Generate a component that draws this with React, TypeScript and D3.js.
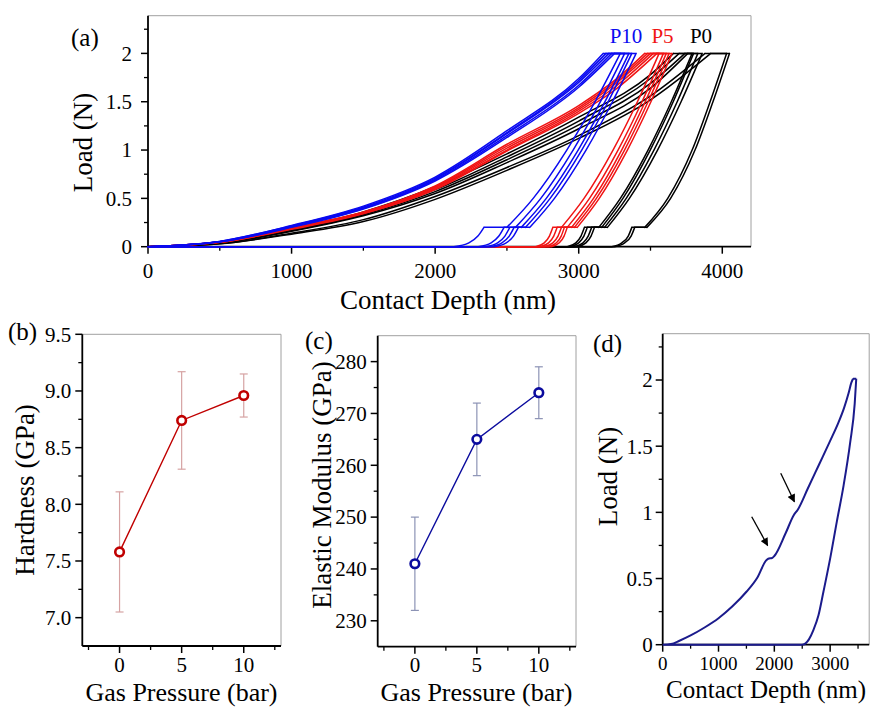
import React from "react";
import * as d3 from "d3";

type Pt = [number, number];
type Loop = { load: Pt[]; unload: Pt[]; tail: Pt[] };

// (a) load / contact-depth loops, [depth nm, load N]
const p10Loops: Loop[] = [
  {
    load: [[0, 0], [500, 0.055], [1000, 0.22], [1500, 0.42], [2000, 0.72], [2500, 1.2], [3000, 1.74], [3170, 2.0]],
    unload: [[2500, 0.2], [2683, 0.5], [2917, 1.0], [3114, 1.5], [3290, 2.0]],
    tail: [[2130, 0], [2235, 0.04], [2298, 0.11], [2340, 0.2]],
  },
  {
    load: [[0, 0], [500, 0.055], [1000, 0.215], [1500, 0.41], [2000, 0.71], [2500, 1.18], [3000, 1.72], [3190, 2.0]],
    unload: [[2560, 0.2], [2736, 0.5], [2961, 1.0], [3151, 1.5], [3320, 2.0]],
    tail: [[2300, 0], [2390, 0.04], [2444, 0.11], [2480, 0.2]],
  },
  {
    load: [[0, 0], [500, 0.05], [1000, 0.21], [1500, 0.4], [2000, 0.7], [2500, 1.17], [3000, 1.7], [3210, 2.0]],
    unload: [[2600, 0.2], [2774, 0.5], [2996, 1.0], [3183, 1.5], [3350, 2.0]],
    tail: [[2350, 0], [2435, 0.04], [2486, 0.11], [2520, 0.2]],
  },
  {
    load: [[0, 0], [500, 0.05], [1000, 0.205], [1500, 0.395], [2000, 0.69], [2500, 1.15], [3000, 1.67], [3230, 2.0]],
    unload: [[2630, 0.2], [2801, 0.5], [3021, 1.0], [3205, 1.5], [3370, 2.0]],
    tail: [[2380, 0], [2465, 0.04], [2516, 0.11], [2550, 0.2]],
  },
  {
    load: [[0, 0], [500, 0.05], [1000, 0.2], [1500, 0.39], [2000, 0.68], [2500, 1.13], [3000, 1.65], [3250, 2.0]],
    unload: [[2660, 0.2], [2831, 0.5], [3051, 1.0], [3235, 1.5], [3400, 2.0]],
    tail: [[2410, 0], [2495, 0.04], [2546, 0.11], [2580, 0.2]],
  },
];

const p5Loops: Loop[] = [
  {
    load: [[0, 0], [500, 0.05], [1000, 0.2], [1500, 0.36], [2000, 0.63], [2500, 1.06], [3000, 1.46], [3250, 1.72], [3460, 2.0]],
    unload: [[2880, 0.2], [3037, 0.5], [3239, 1.0], [3409, 1.5], [3560, 2.0]],
    tail: [[2700, 0], [2760, 0.04], [2796, 0.11], [2820, 0.2]],
  },
  {
    load: [[0, 0], [500, 0.05], [1000, 0.195], [1500, 0.355], [2000, 0.62], [2500, 1.04], [3000, 1.44], [3250, 1.7], [3480, 2.0]],
    unload: [[2920, 0.2], [3075, 0.5], [3274, 1.0], [3441, 1.5], [3590, 2.0]],
    tail: [[2730, 0], [2790, 0.04], [2826, 0.11], [2850, 0.2]],
  },
  {
    load: [[0, 0], [500, 0.045], [1000, 0.19], [1500, 0.35], [2000, 0.61], [2500, 1.02], [3000, 1.42], [3250, 1.68], [3500, 2.0]],
    unload: [[2950, 0.2], [3103, 0.5], [3299, 1.0], [3463, 1.5], [3610, 2.0]],
    tail: [[2760, 0], [2820, 0.04], [2856, 0.11], [2880, 0.2]],
  },
  {
    load: [[0, 0], [500, 0.045], [1000, 0.185], [1500, 0.345], [2000, 0.6], [2500, 1.0], [3000, 1.4], [3250, 1.65], [3520, 2.0]],
    unload: [[2970, 0.2], [3123, 0.5], [3319, 1.0], [3483, 1.5], [3630, 2.0]],
    tail: [[2790, 0], [2845, 0.04], [2878, 0.11], [2900, 0.2]],
  },
  {
    load: [[0, 0], [500, 0.045], [1000, 0.18], [1500, 0.34], [2000, 0.59], [2500, 0.99], [3000, 1.38], [3250, 1.62], [3545, 2.0]],
    unload: [[2990, 0.2], [3143, 0.5], [3339, 1.0], [3503, 1.5], [3650, 2.0]],
    tail: [[2810, 0], [2865, 0.04], [2898, 0.11], [2920, 0.2]],
  },
];

const p0Loops: Loop[] = [
  {
    load: [[0, 0], [500, 0.045], [1000, 0.18], [1500, 0.36], [2000, 0.62], [2500, 0.96], [3000, 1.34], [3500, 1.78], [3660, 2.0]],
    unload: [[3140, 0.2], [3290, 0.5], [3483, 1.0], [3645, 1.5], [3790, 2.0]],
    tail: [[2920, 0], [2980, 0.04], [3016, 0.11], [3040, 0.2]],
  },
  {
    load: [[0, 0], [500, 0.04], [1000, 0.17], [1500, 0.34], [2000, 0.59], [2500, 0.93], [3000, 1.3], [3500, 1.74], [3700, 2.0]],
    unload: [[3160, 0.2], [3308, 0.5], [3498, 1.0], [3658, 1.5], [3800, 2.0]],
    tail: [[2940, 0], [3000, 0.04], [3036, 0.11], [3060, 0.2]],
  },
  {
    load: [[0, 0], [500, 0.04], [1000, 0.165], [1500, 0.33], [2000, 0.57], [2500, 0.9], [3000, 1.26], [3500, 1.69], [3740, 2.0]],
    unload: [[3180, 0.2], [3331, 0.5], [3524, 1.0], [3686, 1.5], [3830, 2.0]],
    tail: [[2970, 0], [3030, 0.04], [3066, 0.11], [3090, 0.2]],
  },
  {
    load: [[0, 0], [500, 0.035], [1000, 0.16], [1500, 0.32], [2000, 0.55], [2500, 0.87], [3000, 1.22], [3500, 1.64], [3760, 2.0]],
    unload: [[3200, 0.2], [3353, 0.5], [3549, 1.0], [3713, 1.5], [3860, 2.0]],
    tail: [[2990, 0], [3050, 0.04], [3086, 0.11], [3110, 0.2]],
  },
  {
    load: [[0, 0], [500, 0.03], [1000, 0.14], [1500, 0.28], [2000, 0.52], [2500, 0.82], [3000, 1.15], [3500, 1.56], [3880, 2.0]],
    unload: [[3460, 0.2], [3620, 0.5], [3790, 1.0], [3915, 1.5], [4030, 2.0]],
    tail: [[3230, 0], [3300, 0.04], [3345, 0.11], [3370, 0.2]],
  },
  {
    load: [[0, 0], [500, 0.03], [1000, 0.13], [1500, 0.26], [2000, 0.49], [2500, 0.79], [3000, 1.12], [3500, 1.52], [3920, 2.0]],
    unload: [[3475, 0.2], [3640, 0.5], [3810, 1.0], [3935, 1.5], [4050, 2.0]],
    tail: [[3250, 0], [3320, 0.04], [3365, 0.11], [3390, 0.2]],
  },
];

const groupNames = ["P10", "P5", "P0"];
const groupColors = ["#0a0af0", "#f01414", "#000000"];

// (b), (c)
const pressure = [0, 5, 10];
const hardness = [7.58, 8.74, 8.96];
const hardnessErr = [0.53, 0.43, 0.19];
const modulus = [241, 265, 274];
const modulusErr = [9, 7, 5];

// (d) single loop with pop-ins
const singleLoad: Pt[] = [
  [0, 0], [150, 0.005], [300, 0.03], [500, 0.07], [750, 0.13], [1000, 0.2], [1250, 0.29], [1500, 0.4],
  [1700, 0.51], [1850, 0.635], [1890, 0.65], [1960, 0.655], [2000, 0.67], [2200, 0.84], [2350, 0.98],
  [2420, 1.02], [2600, 1.18], [2800, 1.36], [3000, 1.54], [3150, 1.68], [3250, 1.79], [3330, 1.9],
  [3380, 1.98], [3410, 2.01],
];
const singleUnload: Pt[] = [
  [2500, 0], [2560, 0.01], [2620, 0.04], [2700, 0.11], [2790, 0.22], [2880, 0.4], [3000, 0.65],
  [3120, 0.93], [3240, 1.2], [3360, 1.53], [3440, 1.82], [3468, 2.01],
];
const popInArrows: { from: Pt; to: Pt }[] = [
  { from: [1595, 0.967], to: [1880, 0.75] },
  { from: [2115, 1.295], to: [2360, 1.08] },
];

// ticks
const depthTicks = [0, 1000, 2000, 3000, 4000];
const depthTicksD = [0, 1000, 2000, 3000];
const depthMinor = [500, 1500, 2500, 3500];
const loadTicks = [0, 0.5, 1, 1.5, 2];
const loadMinor = [0.25, 0.75, 1.25, 1.75, 2.25];
const pressureTicks = [0, 5, 10];
const pressureMinor = [-2.5, 2.5, 7.5, 12.5];
const hardTicks = [7, 7.5, 8, 8.5, 9, 9.5];
const hardMinor = [7.25, 7.75, 8.25, 8.75, 9.25];
const modTicks = [230, 240, 250, 260, 270, 280];
const modMinor = [235, 245, 255, 265, 275];

const FONT = "'Liberation Serif', 'Times New Roman', serif";
const FRAME = "#a0a0a0";

type Sc = d3.ScaleLinear<number, number>;

function Axes(props: {
  x: Sc; y: Sc;
  xTicks: number[]; xMinor: number[]; yTicks: number[]; yMinor: number[];
  xFmt: (v: number) => string; yFmt: (v: number) => string;
  xFont: number; yFont: number; xLabelDy: number; yLabelGap: number;
}) {
  const { x, y } = props;
  const [x0, x1] = x.range();
  const [y0, y1] = y.range();
  return (
    <g>
      <line x1={x0} y1={y1} x2={x1} y2={y1} stroke={FRAME} strokeWidth={1} />
      <line x1={x1} y1={y1} x2={x1} y2={y0} stroke={FRAME} strokeWidth={1} />
      <line x1={x0} y1={y1} x2={x0} y2={y0} stroke="#000" strokeWidth={1.8} />
      <line x1={x0} y1={y0} x2={x1} y2={y0} stroke="#000" strokeWidth={1.8} />
      {props.yTicks.map((v) => (
        <g key={"ym" + v}>
          <line x1={x0 - 7} x2={x0} y1={y(v)} y2={y(v)} stroke="#000" strokeWidth={1.5} />
          <text x={x0 - props.yLabelGap} y={y(v)} dy="0.35em" textAnchor="end" fontSize={props.yFont}>
            {props.yFmt(v)}
          </text>
        </g>
      ))}
      {props.yMinor.map((v) => (
        <line key={"yn" + v} x1={x0 - 4} x2={x0} y1={y(v)} y2={y(v)} stroke="#000" strokeWidth={1.3} />
      ))}
      {props.xTicks.map((v) => (
        <g key={"xm" + v}>
          <line x1={x(v)} x2={x(v)} y1={y0} y2={y0 + 7} stroke="#000" strokeWidth={1.5} />
          <text x={x(v)} y={y0 + props.xLabelDy} textAnchor="middle" fontSize={props.xFont}>
            {props.xFmt(v)}
          </text>
        </g>
      ))}
      {props.xMinor.map((v) => (
        <line key={"xn" + v} x1={x(v)} x2={x(v)} y1={y0} y2={y0 + 4} stroke="#000" strokeWidth={1.3} />
      ))}
    </g>
  );
}

function loopPath(c: Loop, x: Sc, y: Sc): string {
  const p = d3.path();
  const smooth = d3.line<Pt>().x((d) => x(d[0])).y((d) => y(d[1])).curve(d3.curveMonotoneX).context(p);
  const straight = d3.line<Pt>().x((d) => x(d[0])).y((d) => y(d[1])).context(p);
  smooth(c.load);
  straight([c.load[c.load.length - 1], c.unload[c.unload.length - 1]]);
  smooth(c.unload);
  straight([c.unload[0], c.tail[c.tail.length - 1]]);
  smooth(c.tail);
  straight([c.tail[0], [0, 0]]);
  return p.toString();
}

const plain = (v: number) => String(v);
const oneDec = (v: number) => v.toFixed(1);

function PanelA() {
  const x = d3.scaleLinear().domain([0, 4200]).range([148, 751]);
  const y = d3.scaleLinear().domain([0, 2.39]).range([246.7, 15.7]);
  const groups = [p0Loops, p5Loops, p10Loops];
  const colors = [groupColors[2], groupColors[1], groupColors[0]];
  return (
    <g>
      <Axes x={x} y={y} xTicks={depthTicks} xMinor={depthMinor} yTicks={loadTicks} yMinor={loadMinor}
        xFmt={plain} yFmt={plain} xFont={21} yFont={21} xLabelDy={31} yLabelGap={16} />
      {groups.map((g, gi) =>
        g.map((c, i) => (
          <path key={gi + "-" + i} d={loopPath(c, x, y)} fill="none" stroke={colors[gi]}
            strokeWidth={1.5} strokeLinejoin="round" strokeLinecap="round" />
        ))
      )}
      {groupNames.map((n, i) => (
        <text key={n} x={[626, 662.5, 701][i]} y={43} textAnchor="middle" fontSize={21} fill={groupColors[i]}>
          {n}
        </text>
      ))}
      <text x={71} y={46} fontSize={25}>(a)</text>
      <text transform="translate(92,142.5) rotate(-90)" textAnchor="middle" fontSize={27}>Load (N)</text>
      <text x={448} y={309} textAnchor="middle" fontSize={27}>Contact Depth (nm)</text>
    </g>
  );
}

function ErrPanel(props: {
  x: Sc; y: Sc; values: number[]; errs: number[]; color: string; errColor: string;
  yTicks: number[]; yMinor: number[]; yFmt: (v: number) => string; label: string; title: string;
  labelPos: Pt; titlePos: Pt; xTitleX: number;
}) {
  const { x, y } = props;
  const pts: Pt[] = pressure.map((p, i) => [p, props.values[i]]);
  const line = d3.line<Pt>().x((d) => x(d[0])).y((d) => y(d[1]));
  return (
    <g>
      <Axes x={x} y={y} xTicks={pressureTicks} xMinor={pressureMinor} yTicks={props.yTicks} yMinor={props.yMinor}
        xFmt={plain} yFmt={props.yFmt} xFont={21} yFont={21} xLabelDy={25.5} yLabelGap={11} />
      {pts.map((d, i) => {
        const lo = y(d[1] - props.errs[i]);
        const hi = y(d[1] + props.errs[i]);
        const cx = x(d[0]);
        return (
          <g key={"e" + i} stroke={props.errColor} strokeWidth={1.2}>
            <line x1={cx} x2={cx} y1={lo} y2={hi} />
            <line x1={cx - 4} x2={cx + 4} y1={lo} y2={lo} />
            <line x1={cx - 4} x2={cx + 4} y1={hi} y2={hi} />
          </g>
        );
      })}
      <path d={line(pts) || ""} fill="none" stroke={props.color} strokeWidth={1.4} />
      {pts.map((d, i) => (
        <circle key={"c" + i} cx={x(d[0])} cy={y(d[1])} r={4.3} fill="#fff" stroke={props.color} strokeWidth={2.6} />
      ))}
      <text x={props.labelPos[0]} y={props.labelPos[1]} fontSize={25}>{props.label}</text>
      <text transform={`translate(${props.titlePos[0]},${props.titlePos[1]}) rotate(-90)`} textAnchor="middle" fontSize={27}>
        {props.title}
      </text>
      <text x={props.xTitleX} y={701} textAnchor="middle" fontSize={26}>Gas Pressure (bar)</text>
    </g>
  );
}

function PanelD() {
  const x = d3.scaleLinear().domain([0, 3700]).range([662.7, 869.2]);
  const y = d3.scaleLinear().domain([0, 2.35]).range([644.7, 333.7]);
  const p = d3.path();
  const smooth = d3.line<Pt>().x((d) => x(d[0])).y((d) => y(d[1])).curve(d3.curveMonotoneX).context(p);
  const straight = d3.line<Pt>().x((d) => x(d[0])).y((d) => y(d[1])).context(p);
  smooth(singleLoad);
  straight([singleLoad[singleLoad.length - 1], singleUnload[singleUnload.length - 1]]);
  smooth(singleUnload);
  straight([singleUnload[0], [0, 0]]);
  return (
    <g>
      <defs>
        <marker id="arrowHead" viewBox="0 0 10 10" refX={9} refY={5} markerWidth={9} markerHeight={8}
          markerUnits="userSpaceOnUse" orient="auto">
          <path d="M0,0 L10,5 L0,10 z" fill="#000" />
        </marker>
      </defs>
      <Axes x={x} y={y} xTicks={depthTicksD} xMinor={depthMinor} yTicks={loadTicks} yMinor={loadMinor}
        xFmt={plain} yFmt={plain} xFont={19} yFont={21} xLabelDy={25} yLabelGap={10} />
      <path d={p.toString()} fill="none" stroke="#1b1b8c" strokeWidth={2} strokeLinejoin="round" />
      {popInArrows.map((a, i) => (
        <line key={"a" + i} x1={x(a.from[0])} y1={y(a.from[1])} x2={x(a.to[0])} y2={y(a.to[1])}
          stroke="#000" strokeWidth={1.3} markerEnd="url(#arrowHead)" />
      ))}
      <text x={593} y={352} fontSize={25}>(d)</text>
      <text transform="translate(617,476.5) rotate(-90)" textAnchor="middle" fontSize={27}>Load (N)</text>
      <text x={766} y={698} textAnchor="middle" fontSize={25}>Contact Depth (nm)</text>
    </g>
  );
}

export default function App() {
  const bx = d3.scaleLinear().domain([-3, 13]).range([82.3, 281]);
  const by = d3.scaleLinear().domain([6.75, 9.5]).range([646, 334.3]);
  const cx = d3.scaleLinear().domain([-3, 13]).range([377.7, 576]);
  const cy = d3.scaleLinear().domain([225, 285]).range([646.7, 335.7]);
  return (
    <svg width={872} height={708} style={{ position: "absolute", left: 0, top: 0, background: "#fff" }}
      fontFamily={FONT}>
      <rect width={872} height={708} fill="#fff" />
      <PanelA />
      <ErrPanel x={bx} y={by} values={hardness} errs={hardnessErr} color="#c00000" errColor="#d6a3a3"
        yTicks={hardTicks} yMinor={hardMinor} yFmt={oneDec} label="(b)" title="Hardness (GPa)"
        labelPos={[8, 340]} titlePos={[34, 490]} xTitleX={181.5} />
      <ErrPanel x={cx} y={cy} values={modulus} errs={modulusErr} color="#0b0b9e" errColor="#8c93b5"
        yTicks={modTicks} yMinor={modMinor} yFmt={plain} label="(c)" title="Elastic Modulus (GPa)"
        labelPos={[305, 349]} titlePos={[331, 485]} xTitleX={476.5} />
      <PanelD />
    </svg>
  );
}
